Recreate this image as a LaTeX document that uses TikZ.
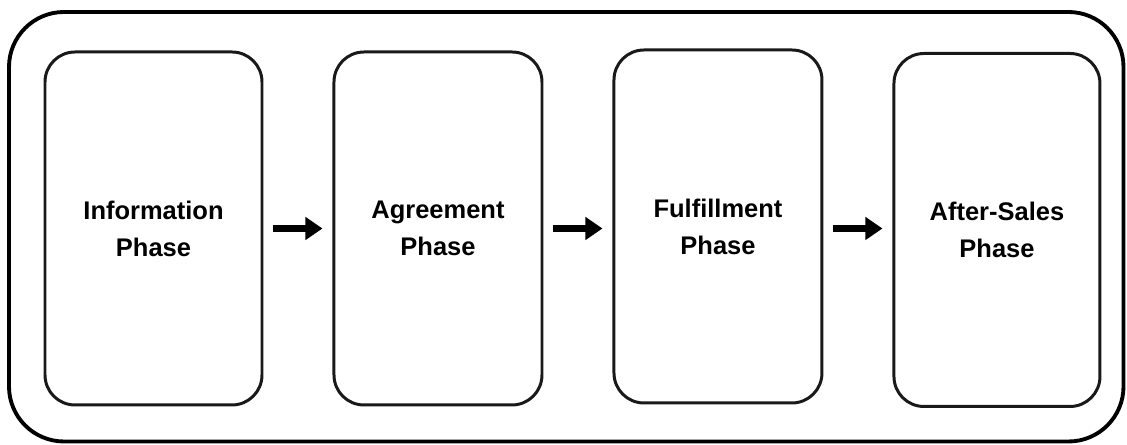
\documentclass[tikz,border=0pt]{standalone}
\usepackage{fontspec}
\setmainfont{Liberation Sans}
\usepackage{tikz}
\usetikzlibrary{
    positioning,
    arrows.meta
}

\begin{document}
\begin{tikzpicture}[
      % Set distances between nodes
      node distance=1.38cm,
      % Define styles for the elements
      phase/.style={
          rectangle,
          draw=black!90,
          line width=1.7pt,
          rounded corners=0.6cm,
          align=center,
          font=\bfseries\fontsize{14.5}{21}\selectfont,
          minimum height=7.06cm,
          minimum width=4.16cm
        },
      frame/.style={
          draw,
          line width=2.2pt,
          rounded corners=1.1cm
        },
      arrow/.style={
          -{Triangle[length=0.34cm,width=0.44cm]}, % Arrow tip style
          line width=4pt,
          shorten <=0.2cm,
          shorten >=0.2cm
        }
    ]

    \useasboundingbox (0,0) rectangle (22.54,8.9);

    % Outer frame
    \draw[frame] (0.18,0.07) rectangle (22.47,8.66);

    % Place the nodes
    \node[phase, minimum width=4.34cm] (info) at (3.07,4.33) {
      Information\\Phase
    };

    \node[phase, right=of info] (agree) {
      Agreement\\Phase
    };

    \node[phase, right=of agree, yshift=0.04cm] (fulfil) {
      Fulfillment\\Phase
    };

    \node[phase, right=of fulfil, yshift=-0.07cm, minimum width=4.12cm] (after) {
      After-Sales\\Phase
    };

    % Draw the arrows connecting the nodes
    \draw[arrow] (info.east) -- (agree.west |- info.east);
    \draw[arrow] (agree.east) -- (fulfil.west |- agree.east);
    \draw[arrow] (fulfil.east |- agree.east) -- (after.west |- agree.east);

  \end{tikzpicture}
\end{document}
